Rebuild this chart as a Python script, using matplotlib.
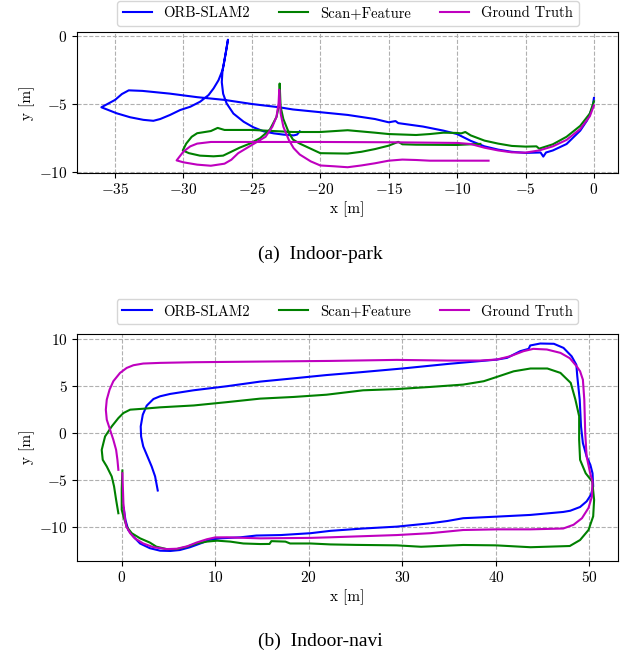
import matplotlib
matplotlib.use('Agg')
import matplotlib.pyplot as plt

plt.rcParams['font.family'] = 'serif'
plt.rcParams['font.serif'] = ['cmr10']
plt.rcParams['mathtext.fontset'] = 'cm'
plt.rcParams['axes.formatter.use_mathtext'] = True
plt.rcParams['font.size'] = 11

labels = ['ORB-SLAM2', 'Scan+Feature', 'Ground Truth']
colors = ['b', 'g', 'm']

# (a) Indoor-park trajectories
park_orb_x = [0, -0.1, -0.5, -1, -2, -3, -3.5, -3.7, -3.9, -5, -6, -7, -8, -9, -9.5, -10, -11,
              -12.5, -14.3, -14.5, -15, -16, -18, -20, -22, -23, -25, -27, -29, -31, -33, -34,
              -34.5, -35, -36, -34.88, -33.9, -32.93, -32.2, -31.7, -30.98, -30.24, -29.5, -28.78,
              -28.17, -27.8, -27.44, -27.15, -27.05, -26.9, -26.75, -26.9, -27.05, -27.15, -27.2,
              -27.1, -26.85, -26.35, -25.6, -24.9, -24.15, -23.4, -22.7, -21.95, -21.7, -21.5]
park_orb_y = [-4.56, -5.24, -6.2, -6.95, -7.93, -8.4, -8.55, -8.85, -8.55, -8.58, -8.5, -8.34,
              -8.1, -7.7, -7.45, -7.2, -6.95, -6.65, -6.4, -6.25, -6.34, -6.1, -5.8, -5.6, -5.4,
              -5.24, -5.0, -4.7, -4.5, -4.24, -4.04, -4.0, -4.27, -4.7, -5.24, -5.68, -5.97,
              -6.16, -6.23, -6.1, -5.8, -5.44, -5.2, -4.83, -4.35, -3.86, -3.26, -2.53, -2.05,
              -1.2, -0.3, -1.2, -2.05, -2.6, -3.4, -4.25, -4.95, -5.7, -6.3, -6.7, -7.0, -7.15,
              -7.24, -7.3, -7.24, -7.0]

park_sf_x = [0, -0.3, -1, -2, -3, -4, -4.2, -5, -6, -7, -8, -9, -9.4, -9.7, -10, -11, -12, -13,
             -15, -16, -18, -20, -22, -25, -27, -27.5, -28, -29, -29.4, -29.8, -30.05, -29.6,
             -28.8, -27.8, -27.1, -26.6, -25.9, -25.15, -24.4, -23.7, -23.2, -23.0, -22.97, -22.9,
             -22.7, -22.3, -22, -21.5, -20, -18, -17, -16, -15, -14.3, -14, -13, -10, -9, -8.3]
park_sf_y = [-4.8, -5.7, -6.6, -7.4, -7.95, -8.27, -8.1, -8.12, -8.07, -7.9, -7.68, -7.3, -7.05,
             -7.15, -7.12, -7.1, -7.2, -7.27, -7.2, -7.1, -6.92, -7.05, -7.05, -6.9, -6.9, -6.75,
             -6.98, -7.14, -7.4, -7.9, -8.4, -8.6, -8.78, -8.83, -8.78, -8.54, -8.2, -7.9, -7.5,
             -6.9, -5.95, -5.0, -3.5, -5.2, -6.1, -7.1, -7.6, -7.9, -8.6, -8.63, -8.5, -8.3,
             -8.05, -7.77, -7.95, -7.98, -8.0, -7.95, -7.92]

park_gt_x = [0, -0.3, -1, -2, -3, -4, -5, -6, -7, -8, -9, -10, -15, -20, -25, -28, -29, -29.5,
             -30, -30.5, -30, -29, -28, -27, -26.5, -26, -25, -24, -23.5, -23.2, -23.05, -23,
             -22.9, -22.7, -22.3, -21.95, -21.5, -20.7, -20, -19, -18, -17, -16, -15, -14, -13,
             -12, -10, -7.7]
park_gt_y = [-5.1, -5.9, -6.83, -7.63, -8.1, -8.4, -8.56, -8.54, -8.4, -8.2, -7.93, -7.85, -7.8,
             -7.78, -7.78, -7.78, -7.9, -8.1, -8.48, -9.13, -9.27, -9.44, -9.52, -9.37, -9.08,
             -8.6, -8.0, -7.4, -6.66, -5.93, -4.96, -3.95, -5.69, -6.66, -7.63, -8.23, -8.7,
             -9.2, -9.5, -9.56, -9.63, -9.5, -9.34, -9.15, -9.07, -9.1, -9.15, -9.15, -9.15]

# (b) Indoor-navi trajectories
navi_orb_x = [0.2, 0.4, 0.7, 1.25, 1.96, 3.0, 4.1, 5.2, 6.2, 7.3, 8.4, 9.45, 10.5, 12.7, 14.4,
              17, 20.2, 22.3, 25.8, 29.4, 33, 34.8, 36.5, 40.1, 43.67, 47.2, 47.95, 49.0, 49.7,
              50.16, 50.4, 50.33, 50.1, 49.7, 49.3, 49.1, 48.96, 48.7, 48.6, 48.1, 47.23, 46.2,
              44.74, 43.67, 43.5, 42.6, 41.2, 40.1, 35, 30, 25.5, 21.9, 18.4, 14.8, 11.2, 7.67,
              5.17, 4.1, 3.39, 2.67, 2.25, 2.03, 2.07, 2.3, 2.75, 3.2, 3.57, 3.85]
navi_orb_y = [-8.0, -9.3, -10.36, -11.07, -11.8, -12.3, -12.57, -12.6, -12.5, -12.2, -11.8,
              -11.4, -11.25, -11.14, -10.95, -10.9, -10.7, -10.45, -10.2, -10.0, -9.64, -9.4,
              -9.1, -8.93, -8.75, -8.43, -8.3, -7.9, -7.3, -6.6, -5.7, -4.3, -3.4, -2.5, -1.07,
              0.71, 3.57, 6.07, 7.3, 8.2, 9.1, 9.54, 9.57, 9.36, 9.0, 8.75, 8.04, 7.85, 7.4, 6.9,
              6.5, 6.2, 5.85, 5.5, 5.0, 4.57, 4.18, 3.93, 3.64, 2.93, 1.96, 0.71, -0.36, -1.43,
              -2.5, -3.57, -4.64, -6.14]

navi_sf_x = [0.07, 0.0, 0.0, 0.18, 0.53, 1.07, 1.96, 3.0, 3.7, 4.8, 5.9, 7.0, 8.0, 9.1, 10.2,
             11.6, 13, 14.8, 15.8, 16.0, 17.5, 18, 20.2, 22.3, 25, 29.4, 32, 36.5, 40, 43.7, 47.9,
             49.0, 49.9, 50.4, 50.5, 50.3, 49.6, 49.0, 48.9, 48.9, 48.5, 48, 46.9, 45.5, 43.7,
             41.9, 40.1, 38.7, 36.5, 33, 29.4, 25.8, 21.9, 18.4, 14.8, 11.2, 7.7, 4.1, 2.3, 0.9,
             0.18, -0.36, -1.07, -1.78, -1.96, -2.14, -2.03, -1.6, -1.07, -0.82, -0.6, -0.36]
navi_sf_y = [-4.0, -6.0, -8.2, -8.9, -10.0, -10.7, -11.25, -11.7, -12.14, -12.4, -12.4, -12.14,
             -11.8, -11.6, -11.5, -11.6, -11.8, -11.86, -11.85, -11.55, -11.6, -11.8, -11.8,
             -11.9, -11.95, -12.0, -12.15, -11.96, -12.0, -12.2, -12.07, -11.43, -10.36, -8.9,
             -7.14, -5.18, -4.3, -2.86, -0.71, 1.8, 3.57, 5.36, 6.43, 6.9, 6.9, 6.6, 6.0, 5.54,
             5.18, 4.93, 4.7, 4.57, 4.1, 3.86, 3.68, 3.3, 2.95, 2.75, 2.6, 2.5, 2.14, 1.6, 0.71,
             -0.36, -1.07, -1.8, -2.86, -3.57, -4.64, -5.7, -7.14, -8.57]

navi_gt_x = [0.07, 0.18, 0.36, 0.5, 0.9, 1.4, 2.3, 3.4, 4.8, 5.9, 7.0, 8.0, 9.1, 10, 11.2, 14.8,
             20.2, 22.3, 29.4, 33, 36.5, 40.1, 43.7, 47.2, 48.3, 49.2, 49.9, 50.26, 50.33, 50.08,
             49.7, 49.55, 49.45, 49.3, 49.0, 48.66, 47.9, 46.9, 45.45, 44.0, 42.95, 41.5, 40.1,
             38.3, 34.8, 29.4, 22.3, 14.8, 7.7, 4.1, 2.3, 1.25, 0.53, -0.18, -0.9, -1.3, -1.6,
             -1.7, -1.6, -1.25, -0.9, -0.6, -0.46, -0.36]
navi_gt_y = [-4.3, -7.5, -9.3, -10.0, -10.7, -11.25, -11.8, -12.2, -12.4, -12.36, -12.1, -11.7,
             -11.35, -11.15, -11.14, -11.25, -11.2, -11.14, -10.9, -10.7, -10.36, -10.29, -10.29,
             -10.2, -9.8, -9.1, -8.0, -6.8, -5.2, -4.3, -2.5, 0.0, 3.57, 5.7, 6.6, 7.1, 8.0,
             8.57, 8.93, 9.0, 8.75, 8.2, 7.86, 7.75, 7.75, 7.82, 7.71, 7.64, 7.57, 7.5, 7.43,
             7.25, 6.96, 6.43, 5.54, 4.64, 3.57, 2.5, 1.43, 0.36, -0.71, -1.8, -2.86, -3.93]

W, H = 640, 667
fig = plt.figure(figsize=(W / 100, H / 100), dpi=100)

ax1 = fig.add_axes([77.3 / W, 1 - 172.7 / H, 540.7 / W, 140.4 / H])
ax2 = fig.add_axes([77.3 / W, 1 - 560.7 / H, 540.2 / W, 227.2 / H])

for ax, data in [(ax1, [(park_orb_x, park_orb_y), (park_sf_x, park_sf_y), (park_gt_x, park_gt_y)]),
                 (ax2, [(navi_orb_x, navi_orb_y), (navi_sf_x, navi_sf_y), (navi_gt_x, navi_gt_y)])]:
    for (xs, ys), label, color in zip(data, labels, colors):
        ax.plot(xs, ys, color=color, lw=1.5, label=label)
    ax.grid(True, linestyle='--', color='#b0b0b0', linewidth=0.8)
    ax.set_xlabel('x [m]', labelpad=3)
    ax.set_ylabel('y [m]', labelpad=3)

ax1.set_xlim(-37.76, 1.76)
ax1.set_ylim(-10.03, 0.25)
ax1.set_xticks([-35, -30, -25, -20, -15, -10, -5, 0])
ax1.set_yticks([-10, -5, 0])
ax1.legend(loc='lower center', bbox_to_anchor=(0.5, 1.045), ncol=3, borderaxespad=0,
           fontsize=10.5)

ax2.set_xlim(-4.75, 53.0)
ax2.set_ylim(-13.64, 10.64)
ax2.set_xticks([0, 10, 20, 30, 40, 50])
ax2.set_yticks([-10, -5, 0, 5, 10])
ax2.legend(loc='lower center', bbox_to_anchor=(0.5, 1.04), ncol=3, borderaxespad=0,
           fontsize=10.5)

fig.text(0.5, 1 - 254.5 / H, '(a)  Indoor-park', ha='center', va='center',
         family='Liberation Serif', fontsize=14)
fig.text(0.5, 1 - 641 / H, '(b)  Indoor-navi', ha='center', va='center',
         family='Liberation Serif', fontsize=14)

fig.savefig('out.png', dpi=100)
